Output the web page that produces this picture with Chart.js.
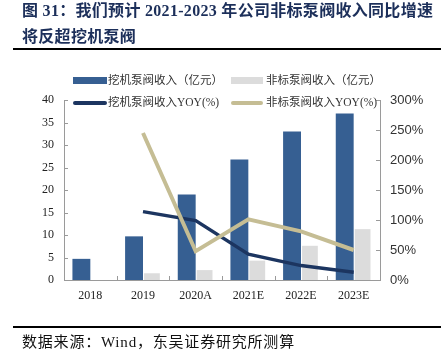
<!DOCTYPE html>
<html>
<head>
<meta charset="utf-8">
<script src="https://cdn.jsdelivr.net/npm/chart.js@4.4.1/dist/chart.umd.min.js"></script>
<style>
  html, body { margin:0; padding:0; width:441px; height:363px; background:#fff; overflow:hidden; }
  #wrap { position:relative; width:441px; height:363px; }
  canvas { position:absolute; left:0; top:0; }
  .title { position:absolute; left:22px; font-family:"Liberation Serif","Noto Sans CJK SC",serif; font-weight:bold; font-size:16px; letter-spacing:0.3px; color:#1c2f5a; white-space:nowrap; line-height:1; }
  .rule { position:absolute; left:13px; right:0; background:#000; }
  .foot { position:absolute; left:22px; top:335px; font-family:"Liberation Serif","Noto Sans CJK SC",serif; font-size:15px; letter-spacing:0.8px; color:#111; white-space:nowrap; line-height:1; }
  .lg { position:absolute; font-family:"Liberation Serif","Noto Sans CJK SC",serif; font-size:11.5px; color:#333; white-space:nowrap; line-height:1; }
  .sw { position:absolute; }
</style>
</head>
<body>
<div id="wrap">
  <canvas id="c" width="441" height="363"></canvas>
  <div class="title" style="top:3px;">图 31：我们预计 2021-2023 年公司非标泵阀收入同比增速</div>
  <div class="title" style="top:29px;">将反超挖机泵阀</div>
  <div class="rule" style="top:48px;height:2px;"></div>
  <div class="rule" style="top:326px;height:1.5px;"></div>
  <div class="foot">数据来源：Wind，东吴证券研究所测算</div>
  <div id="legend"></div>
</div>
<script>
const categories = ["2018", "2019", "2020A", "2021E", "2022E", "2023E"];
const excavatorRevenue = [4.7, 9.7, 19.0, 26.8, 33.0, 37.0];
const nonStdRevenue = [null, 1.5, 2.2, 4.3, 7.6, 11.3];
const excavatorYoy = [null, 114, 99, 43, 24, 13];
const nonStdYoy = [null, 245, 48, 101, 81, 50];
const leftTicks = [0, 5, 10, 15, 20, 25, 30, 35, 40];
const rightTicks = [0, 50, 100, 150, 200, 250, 300];
const seriesNames = ["挖机泵阀收入（亿元）", "非标泵阀收入（亿元）", "挖机泵阀收入YOY(%)", "非标泵阀收入YOY(%)"];

const C_BLUE = "#365f92", C_GRAY = "#dcdcdc", C_NAVY = "#1c3560", C_GOLD = "#c5bd94";

// HTML legend
const legendItems = [
  {name: seriesNames[0], color: C_BLUE, x: 73, y: 77, w: 34, h: 7, tx: 108, ty: 75},
  {name: seriesNames[1], color: C_GRAY, x: 231, y: 77, w: 32, h: 7, tx: 266, ty: 75},
  {name: seriesNames[2], color: C_NAVY, x: 73, y: 101, w: 34, h: 4, tx: 108, ty: 97},
  {name: seriesNames[3], color: C_GOLD, x: 231, y: 101, w: 32, h: 4, tx: 266, ty: 97}
];
const lg = document.getElementById("legend");
legendItems.forEach(it => {
  const s = document.createElement("div");
  s.className = "sw";
  s.style.cssText = `left:${it.x}px;top:${it.y}px;width:${it.w}px;height:${it.h}px;background:${it.color};border-radius:${it.h===4?2:0}px;`;
  lg.appendChild(s);
  const t = document.createElement("div");
  t.className = "lg";
  t.style.cssText = `left:${it.tx}px;top:${it.ty}px;`;
  t.textContent = it.name;
  lg.appendChild(t);
});

const AXIS_COLOR = "#9a9a9a";
const innerTicks = {
  id: "innerTicks",
  afterDatasetsDraw(chart) {
    const {ctx, chartArea: a, scales} = chart;
    ctx.save();
    ctx.strokeStyle = AXIS_COLOR;
    ctx.lineWidth = 1;
    ctx.beginPath();
    leftTicks.forEach(v => {
      const y = Math.round(scales.y.getPixelForValue(v)) + 0.5;
      ctx.moveTo(a.left, y); ctx.lineTo(a.left + 4, y);
    });
    rightTicks.forEach(v => {
      const y = Math.round(scales.y1.getPixelForValue(v)) + 0.5;
      ctx.moveTo(a.right, y); ctx.lineTo(a.right - 4, y);
    });
    for (let i = 0; i < categories.length - 1; i++) {
      const x = Math.round((scales.x.getPixelForValue(i) + scales.x.getPixelForValue(i + 1)) / 2) + 0.5;
      ctx.moveTo(x, a.bottom); ctx.lineTo(x, a.bottom - 4);
    }
    ctx.stroke();
    ctx.restore();
  }
};

new Chart(document.getElementById("c"), {
  data: {
    labels: categories,
    datasets: [
      {type: "line", label: seriesNames[2], data: excavatorYoy, yAxisID: "y1", borderColor: C_NAVY, borderWidth: 3.5, pointRadius: 0, tension: 0, order: 1},
      {type: "line", label: seriesNames[3], data: nonStdYoy, yAxisID: "y1", borderColor: C_GOLD, borderWidth: 4, pointRadius: 0, tension: 0, order: 0},
      {type: "bar", label: seriesNames[0], data: excavatorRevenue, yAxisID: "y", backgroundColor: C_BLUE, categoryPercentage: 0.68, barPercentage: 1, order: 2},
      {type: "bar", label: seriesNames[1], data: nonStdRevenue, yAxisID: "y", backgroundColor: C_GRAY, categoryPercentage: 0.68, barPercentage: 0.88, order: 3}
    ]
  },
  options: {
    responsive: false,
    animation: false,
    layout: {padding: {top: 100, left: 0, right: 0, bottom: 0}},
    plugins: {legend: {display: false}, tooltip: {enabled: false}},
    scales: {
      x: {
        offset: true,
        grid: {display: false, drawTicks: false},
        border: {display: true, color: AXIS_COLOR, width: 1},
        ticks: {color: "#222", font: {family: "Liberation Serif", size: 12}, padding: 9},
        afterFit(s) { s.height = 83; }
      },
      y: {
        position: "left",
        min: 0, max: 40,
        afterBuildTicks(s) { s.ticks = leftTicks.map(v => ({value: v})); },
        grid: {display: false, drawTicks: false},
        border: {display: true, color: AXIS_COLOR, width: 1},
        ticks: {color: "#222", font: {family: "Liberation Serif", size: 12}, padding: 10},
        afterFit(s) { s.width = 64; }
      },
      y1: {
        position: "right",
        min: 0, max: 300,
        afterBuildTicks(s) { s.ticks = rightTicks.map(v => ({value: v})); },
        grid: {display: false, drawTicks: false},
        border: {display: true, color: AXIS_COLOR, width: 1},
        ticks: {color: "#333", font: {family: "Liberation Sans", size: 13}, padding: 10, callback: v => v + "%"},
        afterFit(s) { s.width = 61; }
      }
    }
  },
  plugins: [innerTicks]
});
</script>
</body>
</html>
